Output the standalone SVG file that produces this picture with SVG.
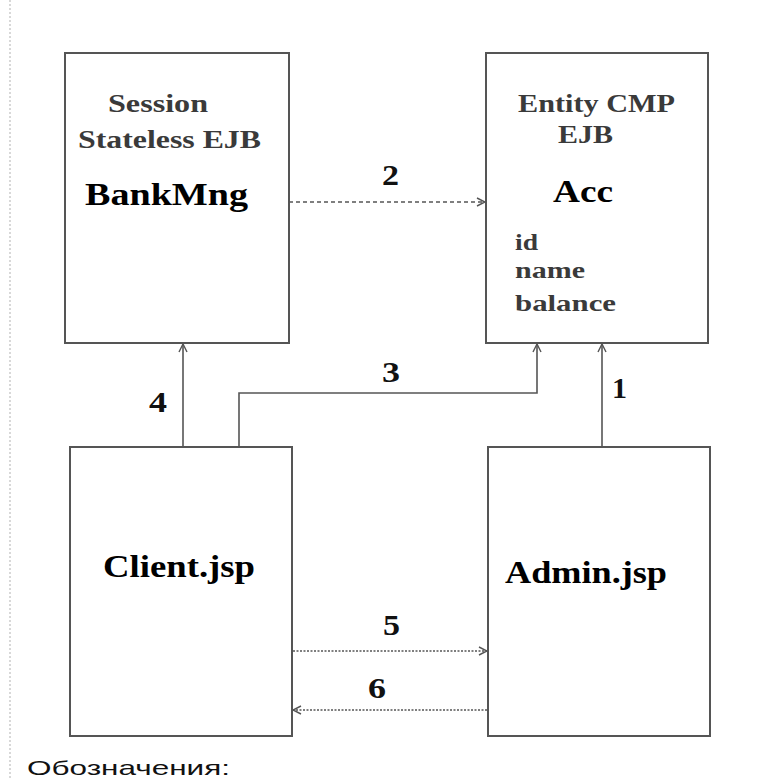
<svg xmlns="http://www.w3.org/2000/svg" width="774" height="780" viewBox="0 0 774 780">
<style>
.box{fill:#fff;stroke:#555;stroke-width:2}
.ln{fill:none;stroke:#555;stroke-width:1.6}
.dash{stroke-dasharray:4 3}
.dot{stroke-dasharray:2 1.5}
.t{font-family:"Liberation Serif","Times New Roman","DejaVu Serif",serif;font-weight:bold}
.sub{fill:#3a3a3a;font-size:26px}
.fld{fill:#3a3a3a;font-size:23px}
.main{fill:#000;font-size:32px}
.num{fill:#111;font-size:29px}
</style>
<defs>
<marker id="ah" viewBox="0 0 10 10" refX="9" refY="5" markerWidth="10" markerHeight="10" markerUnits="userSpaceOnUse" orient="auto">
<path d="M1,1 L9,5 L1,9" fill="none" stroke="#555" stroke-width="1.4"/>
</marker>
</defs>
<rect width="774" height="780" fill="#fff"/>
<line x1="10" y1="0" x2="10" y2="780" stroke="#ccc" stroke-width="1.5" stroke-dasharray="2 2"/>
<g id="connectors">
<line class="ln dash" x1="289" y1="202" x2="485" y2="202" marker-end="url(#ah)"/>
<line class="ln" x1="183" y1="447" x2="183" y2="344" marker-end="url(#ah)"/>
<polyline class="ln" points="239,447 239,393 537,393 537,344" marker-end="url(#ah)"/>
<line class="ln" x1="602" y1="447" x2="602" y2="344" marker-end="url(#ah)"/>
<line class="ln dot" x1="293" y1="651" x2="487" y2="651" marker-end="url(#ah)"/>
<line class="ln dot" x1="487" y1="710" x2="293" y2="710" marker-end="url(#ah)"/>
<text class="t num" x="382" y="185" textLength="17" lengthAdjust="spacingAndGlyphs">2</text>
<text class="t num" x="382" y="382" textLength="18" lengthAdjust="spacingAndGlyphs">3</text>
<text class="t num" x="149" y="412" textLength="18" lengthAdjust="spacingAndGlyphs">4</text>
<text class="t num" x="612" y="398" textLength="15" lengthAdjust="spacingAndGlyphs">1</text>
<text class="t num" x="383" y="635" textLength="17" lengthAdjust="spacingAndGlyphs">5</text>
<text class="t num" x="368" y="698" textLength="18" lengthAdjust="spacingAndGlyphs">6</text>
</g>
<g id="bankmng">
<rect class="box" x="65" y="53" width="224" height="290"/>
<text class="t sub" x="108" y="112" textLength="100" lengthAdjust="spacingAndGlyphs">Session</text>
<text class="t sub" x="78" y="148" textLength="183" lengthAdjust="spacingAndGlyphs">Stateless EJB</text>
<text class="t main" x="85" y="205" textLength="163" lengthAdjust="spacingAndGlyphs">BankMng</text>
</g>
<g id="acc">
<rect class="box" x="486" y="53" width="222" height="290"/>
<text class="t sub" x="518" y="112" textLength="157" lengthAdjust="spacingAndGlyphs">Entity CMP</text>
<text class="t sub" x="558" y="143" textLength="55" lengthAdjust="spacingAndGlyphs">EJB</text>
<text class="t main" x="553" y="202" textLength="60" lengthAdjust="spacingAndGlyphs">Acc</text>
<text class="t fld" x="515" y="250" textLength="23" lengthAdjust="spacingAndGlyphs">id</text>
<text class="t fld" x="515" y="278" textLength="70" lengthAdjust="spacingAndGlyphs">name</text>
<text class="t fld" x="515" y="311" textLength="101" lengthAdjust="spacingAndGlyphs">balance</text>
</g>
<g id="client">
<rect class="box" x="70" y="447" width="222" height="289"/>
<text class="t main" x="103" y="577" textLength="152" lengthAdjust="spacingAndGlyphs">Client.jsp</text>
</g>
<g id="admin">
<rect class="box" x="488" y="447" width="222" height="289"/>
<text class="t main" x="505" y="583" textLength="162" lengthAdjust="spacingAndGlyphs">Admin.jsp</text>
</g>
<text x="27" y="775" font-family="'Liberation Sans',Arial,sans-serif" font-size="21" fill="#111" textLength="203" lengthAdjust="spacingAndGlyphs">Обозначения:</text>
</svg>
